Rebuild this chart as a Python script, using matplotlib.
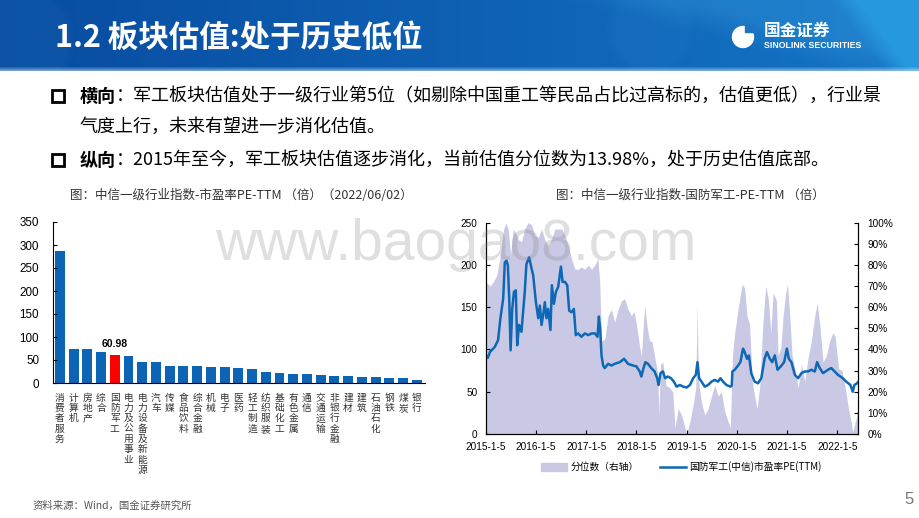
import matplotlib
matplotlib.use("Agg")
import matplotlib.pyplot as plt
import numpy as np
import pandas as pd
from matplotlib.patches import Rectangle, Circle, Patch
from matplotlib.lines import Line2D

plt.rcParams['font.family'] = ['Noto Sans CJK SC', 'DejaVu Sans']

# ---------------- data ----------------
industries = ["消费者服务", "计算机", "房地产", "综合", "国防军工", "电力及公用事业",
              "电力设备及新能源", "汽车", "传媒", "食品饮料", "综合金融", "机械", "电子",
              "医药", "轻工制造", "纺织服装", "基础化工", "有色金属", "通信", "交通运输",
              "非银行金融", "建材", "建筑", "石油石化", "钢铁", "煤炭", "银行"]
pe_ttm = [288, 75, 75, 67, 60.98, 59, 46, 45, 38, 38, 38, 35.5, 34, 32, 29.5, 25,
          21.5, 20.5, 18.5, 17, 14.5, 14.5, 13, 12.3, 11.5, 10.8, 5.8]
highlight = "国防军工"
bar_label = "60.98"

pe_dates = ["2015-01-05", "2015-01-20", "2015-02-05", "2015-03-12", "2015-04-05", "2015-04-22",
            "2015-05-12", "2015-05-24", "2015-06-05", "2015-06-15", "2015-06-25", "2015-07-05",
            "2015-07-17", "2015-07-29", "2015-08-12", "2015-08-22", "2015-09-05", "2015-09-22",
            "2015-10-04", "2015-10-16", "2015-10-28", "2015-11-17", "2015-12-04", "2015-12-16",
            "2016-01-05", "2016-01-22", "2016-02-03", "2016-02-15", "2016-02-27", "2016-03-10",
            "2016-03-22", "2016-04-03", "2016-04-20", "2016-04-30", "2016-05-15", "2016-05-29",
            "2016-06-15", "2016-07-05", "2016-07-17", "2016-08-03", "2016-08-20", "2016-09-03",
            "2016-09-20", "2016-10-07", "2016-10-21", "2016-11-07", "2016-12-01", "2016-12-26",
            "2017-01-20", "2017-02-13", "2017-03-09", "2017-03-28", "2017-04-07", "2017-04-16",
            "2017-04-26", "2017-05-08", "2017-05-20", "2017-06-13", "2017-07-07", "2017-07-31",
            "2017-09-06", "2017-10-07", "2017-11-05", "2017-12-11", "2018-01-05", "2018-01-29",
            "2018-02-10", "2018-02-22", "2018-03-11", "2018-03-30", "2018-04-23", "2018-05-17",
            "2018-06-05", "2018-06-15", "2018-06-29", "2018-07-16", "2018-08-02", "2018-08-21",
            "2018-09-14", "2018-10-04", "2018-10-24", "2018-11-17", "2018-12-11", "2019-01-05",
            "2019-01-29", "2019-02-22", "2019-03-13", "2019-03-25", "2019-04-06", "2019-04-23",
            "2019-05-17", "2019-06-10", "2019-07-05", "2019-07-29", "2019-08-22", "2019-09-08",
            "2019-09-27", "2019-10-21", "2019-11-19", "2019-11-29", "2019-12-04", "2019-12-21",
            "2020-01-14", "2020-01-31", "2020-02-19", "2020-03-02", "2020-03-19", "2020-04-02",
            "2020-04-19", "2020-05-13", "2020-06-07", "2020-07-01", "2020-07-25", "2020-08-11",
            "2020-09-01", "2020-09-18", "2020-10-07", "2020-10-27", "2020-11-20", "2020-12-14",
            "2021-01-03", "2021-01-17", "2021-02-05", "2021-03-02", "2021-03-26", "2021-04-19",
            "2021-05-13", "2021-06-06", "2021-06-30", "2021-07-25", "2021-08-11", "2021-08-30",
            "2021-09-23", "2021-10-29", "2021-11-22", "2021-12-16", "2022-01-09", "2022-02-14",
            "2022-03-10", "2022-04-10", "2022-04-27", "2022-05-09", "2022-05-28", "2022-06-02"]
pe_values = [93, 90, 97, 103, 111, 137, 160, 203, 205, 200, 160, 99,
             148, 168, 170, 105, 129, 121, 145, 168, 201, 209, 196, 188,
             156, 137, 152, 129, 141, 156, 137, 148, 123, 176, 154, 168,
             174, 198, 180, 180, 176, 146, 144, 148, 117, 119, 115, 119,
             117, 119, 119, 115, 139, 125, 93, 81, 78, 83, 81, 83,
             85, 89, 83, 81, 80, 74, 68, 76, 85, 83, 78, 74,
             66, 58, 72, 74, 66, 68, 66, 62, 56, 58, 56, 55,
             58, 66, 70, 85, 66, 62, 56, 58, 62, 64, 62, 66,
             62, 58, 56, 57, 74, 76, 81, 85, 101, 97, 89, 93,
             72, 62, 60, 66, 89, 97, 89, 85, 93, 76, 80, 85,
             101, 89, 85, 70, 66, 72, 74, 74, 76, 74, 85, 78,
             72, 76, 78, 74, 70, 66, 62, 58, 50, 58, 60, 61]

pct_dates = ["2015-01-05", "2015-02-05", "2015-03-01", "2015-03-25", "2015-04-18", "2015-05-12",
             "2015-05-31", "2015-06-17", "2015-07-05", "2015-07-24", "2015-08-12", "2015-08-30",
             "2015-09-22", "2015-10-16", "2015-11-09", "2015-12-04", "2015-12-28", "2016-01-22",
             "2016-02-15", "2016-03-10", "2016-04-03", "2016-04-27", "2016-05-22", "2016-06-15",
             "2016-07-10", "2016-08-03", "2016-08-27", "2016-09-20", "2016-10-14", "2016-11-07",
             "2016-12-01", "2016-12-26", "2017-01-20", "2017-02-13", "2017-03-09", "2017-03-31",
             "2017-04-13", "2017-04-26", "2017-05-20", "2017-06-13", "2017-07-07", "2017-07-31",
             "2017-08-25", "2017-09-18", "2017-10-12", "2017-11-05", "2017-11-29", "2017-12-18",
             "2018-01-05", "2018-01-29", "2018-02-10", "2018-03-06", "2018-03-25", "2018-04-11",
             "2018-04-27", "2018-05-17", "2018-06-10", "2018-06-17", "2018-06-29", "2018-07-16",
             "2018-08-09", "2018-09-02", "2018-09-26", "2018-10-12", "2018-11-05", "2018-11-29",
             "2018-12-24", "2019-01-05", "2019-01-29", "2019-02-22", "2019-03-13", "2019-03-22",
             "2019-04-01", "2019-04-23", "2019-05-17", "2019-06-10", "2019-07-05", "2019-07-29",
             "2019-08-22", "2019-09-15", "2019-10-08", "2019-11-02", "2019-11-19", "2019-12-04",
             "2019-12-21", "2020-01-14", "2020-01-31", "2020-02-14", "2020-03-02", "2020-03-19",
             "2020-04-07", "2020-04-26", "2020-05-13", "2020-05-31", "2020-06-19", "2020-07-13",
             "2020-08-02", "2020-08-21", "2020-09-08", "2020-09-25", "2020-10-19", "2020-10-31",
             "2020-11-20", "2020-12-07", "2020-12-24", "2021-01-07", "2021-01-24", "2021-02-10",
             "2021-03-02", "2021-03-26", "2021-04-19", "2021-05-13", "2021-06-06", "2021-06-30",
             "2021-07-25", "2021-08-11", "2021-08-30", "2021-09-23", "2021-10-17", "2021-11-10",
             "2021-12-04", "2021-12-20", "2022-01-14", "2022-02-07", "2022-03-03", "2022-03-27",
             "2022-04-15", "2022-04-27", "2022-05-09", "2022-05-28", "2022-06-02"]
pct_values = [72, 70, 72, 75, 83, 96, 100, 97, 85, 97, 95, 92,
              91, 97, 100, 99, 94, 93, 97, 92, 89, 92, 97, 97,
              97, 94, 89, 83, 78, 78, 79, 78, 80, 78, 80, 83,
              72, 44, 45, 56, 59, 53, 59, 63, 64, 59, 56, 58,
              52, 41, 37, 61, 50, 44, 44, 37, 28, 9, 33, 34,
              23, 22, 20, 3, 12, 9, 3, 0, 6, 14, 22, 61,
              25, 15, 9, 12, 18, 23, 18, 20, 11, 6, 3, 37,
              48, 59, 66, 71, 69, 56, 52, 25, 18, 12, 22, 53,
              70, 64, 48, 67, 63, 37, 41, 56, 66, 71, 56, 37,
              31, 22, 33, 25, 36, 44, 56, 62, 52, 34, 37, 44,
              48, 46, 31, 30, 22, 12, 6, 1, 4, 9, 14]

x_tick_dates = ["2015-01-05", "2016-01-05", "2017-01-05", "2018-01-05",
                "2019-01-05", "2020-01-05", "2021-01-05", "2022-01-05"]
x_tick_labels = ["2015-1-5", "2016-1-5", "2017-1-5", "2018-1-5",
                 "2019-1-5", "2020-1-5", "2021-1-5", "2022-1-5"]
x_end = "2022-06-02"

title_main = "1.2 板块估值:处于历史低位"
left_title = "图：中信一级行业指数-市盈率PE-TTM （倍）（2022/06/02）"
right_title = "图：中信一级行业指数-国防军工-PE-TTM （倍）"
legend_fill = "分位数（右轴）"
legend_line = "国防军工(中信)市盈率PE(TTM)"
source = "资料来源：Wind，国金证券研究所"

# ---------------- figure ----------------
W, H = 920, 518
fig = plt.figure(figsize=(9.2, 5.18), dpi=100)
fig.patch.set_facecolor("white")


def fx(px):
    return px / W


def fy(py):
    return 1 - py / H


# header band (decorative gradient)
hh = 71
hax = fig.add_axes([0, fy(hh), 1, hh / H])
hax.set_axis_off()
yy, xx = np.mgrid[0:hh, 0:W].astype(float)
t = xx / W
img = np.zeros((hh, W, 3))
img[..., 0] = 8 + 12 * t
img[..., 1] = 76 + 40 * t
img[..., 2] = 160 + 38 * t
for cx, cy, rr, amt in [(20, 40, 55, 0.10), (650, 30, 45, 0.10)]:
    d = np.sqrt((xx - cx) ** 2 + (yy - cy) ** 2)
    m = np.clip((rr - d) / 8, 0, 1) * amt
    img = img * (1 - m[..., None]) + np.array([60, 140, 215]) * m[..., None]
edge = 560 + 4.0 * yy
m = np.clip((xx - edge) / 120, 0, 1) * 0.25
img = img * (1 - m[..., None]) + np.array([70, 175, 235]) * m[..., None]
edge2 = 830 + 0.8 * yy
m2 = np.clip((xx - edge2) / 25, 0, 1) * 0.75
img = img * (1 - m2[..., None]) + np.array([40, 160, 228]) * m2[..., None]
mb = np.clip((yy - 66) / 4, 0, 1) * 0.55
img = img * (1 - mb[..., None]) + np.array([200, 225, 245]) * mb[..., None]
hax.imshow(img / 255, aspect="auto", extent=[0, W, hh, 0])
hax.set_xlim(0, W)
hax.set_ylim(hh, 0)

fig.text(fx(55), fy(38), title_main, fontsize=22, fontweight="bold", color="white",
         va="center", ha="left")
# logo
hax.add_patch(Circle((743, 37), 10.5, color="white"))
hax.add_patch(Rectangle((745, 25), 9, 7, color="#1d72c2"))
fig.text(fx(764), fy(31), "国金证券", fontsize=12, fontweight="bold", color="white",
         va="center", ha="left")
fig.text(fx(764), fy(45), "SINOLINK SECURITIES", fontsize=6.3, fontweight="bold",
         color="white", va="center", ha="left", family=["Liberation Sans", "DejaVu Sans"])

# bullets
renderer = fig.canvas.get_renderer()
fs_body = 13


def bullet_line(y, bold, rest):
    fig.patches.append(Rectangle((fx(52), fy(y + 6)), 12 / W, 12 / H, transform=fig.transFigure,
                                 fill=False, lw=2.0, ec="black"))
    t1 = fig.text(fx(80), fy(y), bold, fontsize=fs_body, fontweight="bold", va="center", ha="left")
    bb = t1.get_window_extent(renderer)
    fig.text(bb.x1 / fig.bbox.width, fy(y), rest, fontsize=fs_body, va="center", ha="left")


bullet_line(96, "横向", "：军工板块估值处于一级行业第5位（如剔除中国重工等民品占比过高标的，估值更低），行业景")
fig.text(fx(80), fy(127), "气度上行，未来有望进一步消化估值。", fontsize=fs_body, va="center", ha="left")
bullet_line(160, "纵向", "：2015年至今，军工板块估值逐步消化，当前估值分位数为13.98%，处于历史估值底部。")

# ---------------- left bar chart ----------------
ax1 = fig.add_axes([fx(53), fy(383), (425 - 53) / W, (383 - 222) / H])
xpos = np.arange(len(industries))
colors = ["#ff0000" if n == highlight else "#0b64b4" for n in industries]
ax1.bar(xpos, pe_ttm, width=0.72, color=colors)
ax1.set_ylim(0, 350)
ax1.set_yticks(range(0, 351, 50))
ax1.set_xlim(-0.5, len(industries) - 0.4)
for s in ["top", "right"]:
    ax1.spines[s].set_visible(False)
ax1.set_xticks(xpos)
ax1.set_xticklabels(["\n".join(n) for n in industries], fontsize=7, linespacing=1.04,
                    va="top", color="#333333")
ax1.tick_params(axis="x", length=0, pad=7)
ax1.tick_params(axis="y", direction="in", length=3, pad=10, labelsize=8.4)
for lab in ax1.get_yticklabels():
    lab.set_family(["Liberation Sans", "DejaVu Sans"])
hi = industries.index(highlight)
ax1.annotate(bar_label, (xpos[hi], pe_ttm[hi]), xytext=(0, 4), textcoords="offset points",
             ha="center", va="bottom", fontsize=7.5, fontweight="bold",
             family=["Liberation Sans", "DejaVu Sans"])
fig.text(fx(241), fy(195), left_title, fontsize=9, ha="center", va="center", color="#333333")

# ---------------- right chart ----------------
ax2 = fig.add_axes([fx(485.7), fy(434), (857.7 - 485.7) / W, (434 - 222.7) / H])
ax2b = ax2.twinx()
pdates = pd.to_datetime(pct_dates)
ax2b.fill_between(pdates, 0, pct_values, color="#c9c9e6", lw=0)
ax2b.set_ylim(0, 100)
ax2b.set_yticks(range(0, 101, 10))
ax2b.set_yticklabels([f"{v}%" for v in range(0, 101, 10)])
ax2.plot(pd.to_datetime(pe_dates), pe_values, color="#0d68b5", lw=1.8)
ax2.set_ylim(0, 250)
ax2.set_yticks(range(0, 251, 50))
ax2.set_zorder(ax2b.get_zorder() + 1)
ax2.patch.set_visible(False)
ax2.set_xlim(pd.Timestamp(x_tick_dates[0]), pd.Timestamp(x_end))
ax2.set_xticks(pd.to_datetime(x_tick_dates))
ax2.set_xticklabels(x_tick_labels)
for a in (ax2, ax2b):
    a.spines["top"].set_visible(False)
ax2.tick_params(axis="both", direction="in", length=3, labelsize=7.2, pad=6)
ax2b.tick_params(axis="y", direction="in", length=3, labelsize=7.2, pad=7)
for lab in ax2.get_xticklabels() + ax2.get_yticklabels() + ax2b.get_yticklabels():
    lab.set_family(["Liberation Sans", "DejaVu Sans"])
fig.text(fx(690), fy(195), right_title, fontsize=9, ha="center", va="center", color="#333333")

handles = [Patch(color="#c9c9e6"), Line2D([0], [0], color="#0d68b5", lw=1.8)]
fig.legend(handles, [legend_fill, legend_line], loc="center left",
           bbox_to_anchor=(fx(541), fy(467)), ncol=2, frameon=False, fontsize=7,
           handlelength=2.7, handleheight=0.9, handletextpad=0.3, columnspacing=2.2,
           borderpad=0, borderaxespad=0)

# footer
fig.text(fx(33), fy(506), source, fontsize=7.5, color="#555555", va="center", ha="left")
fig.text(fx(909), fy(500), "5", fontsize=12, color="#777777", va="center", ha="center",
         family=["Liberation Sans", "DejaVu Sans"])

# watermark
fig.text(fx(215), fy(260), "www.baogao8.com", fontsize=41, color="#808080", alpha=0.25,
         va="baseline", ha="left", family=["Liberation Sans", "DejaVu Sans"], zorder=20)

fig.savefig("out.png", dpi=100)
